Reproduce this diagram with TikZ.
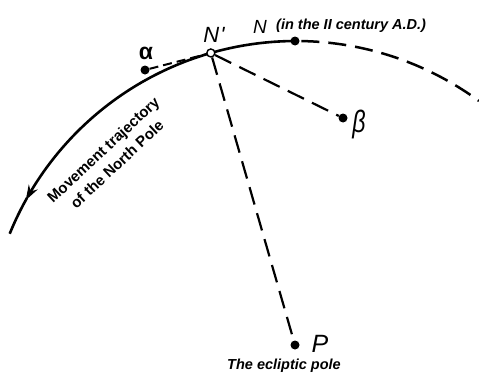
\documentclass[tikz,border=0pt]{standalone}
\usepackage{fontspec}
\setmainfont{Liberation Sans}
\usetikzlibrary{arrows.meta}
\begin{document}
\begin{tikzpicture}[x=1pt,y=-1pt,
  dot/.style={circle,fill=black,inner sep=0pt,minimum size=9pt},
  odot/.style={circle,draw=black,fill=white,line width=1.4pt,inner sep=0pt,minimum size=8pt},
  dline/.style={line width=2.2pt,dash pattern=on 18pt off 9pt},
  sline/.style={line width=2pt,dash pattern=on 9pt off 5pt},
  traj/.style={line width=2.6pt},
  lbl/.style={inner sep=0pt,anchor=center},
]
\useasboundingbox (0,0) rectangle (479,380);
\def\cx{296}\def\cy{350}\def\R{309}
% trajectory of the pole
\draw[traj,-{Stealth[length=15pt,width=10pt]}] plot[domain=90.2:151,samples=80] ({\cx+\R*cos(\x)},{\cy-\R*sin(\x)});
\draw[traj] plot[domain=150.5:157.9,samples=20] ({\cx+\R*cos(\x)},{\cy-\R*sin(\x)});
\draw[dline,line width=2.5pt] plot[domain=89:53.7,samples=80] ({\cx+\R*cos(\x)},{\cy-\R*sin(\x)});
% points
\node[odot] (Np) at ({\cx+\R*cos(106)},{\cy-\R*sin(106)}) {};
\node[dot] (N) at (295,41) {};
\node[dot] (al) at (145,70) {};
\node[dot] (be) at (343,118) {};
\node[dot] (P) at (295,345) {};
% dashed connectors
\draw[sline] (al) -- (Np);
\draw[dline] (Np) -- (be);
\draw[dline] (Np) -- (P);
% labels
\node[lbl,font=\itshape\fontsize{22}{22}\selectfont] (Nplab) at (214,35) {N\kern1pt\textquotesingle};
\node[lbl,font=\itshape\fontsize{19}{19}\selectfont] (Nlab) at (260,27) {N};
\node[lbl,font=\bfseries\itshape\fontsize{14.5}{14.5}\selectfont,anchor=west] (cent) at (276,26) {(in the II century A.D.)};
\node[lbl,font=\bfseries\fontsize{23}{23}\selectfont] (allab) at (146,53) {α};
\node[lbl,font=\itshape\fontsize{31}{31}\selectfont,xscale=0.75] (belab) at (359,124) {β};
\node[lbl,font=\itshape\fontsize{25}{25}\selectfont] (Plab) at (320,344) {P};
\node[lbl,font=\bfseries\itshape\fontsize{14.5}{14.5}\selectfont,anchor=west] (Ptext) at (227,366) {The ecliptic pole};
\node[lbl,rotate=43,align=center,font=\bfseries\fontsize{15}{20}\selectfont] (trajlab) at (110,157) {Movement trajectory\\of the North Pole};
\end{tikzpicture}
\end{document}
